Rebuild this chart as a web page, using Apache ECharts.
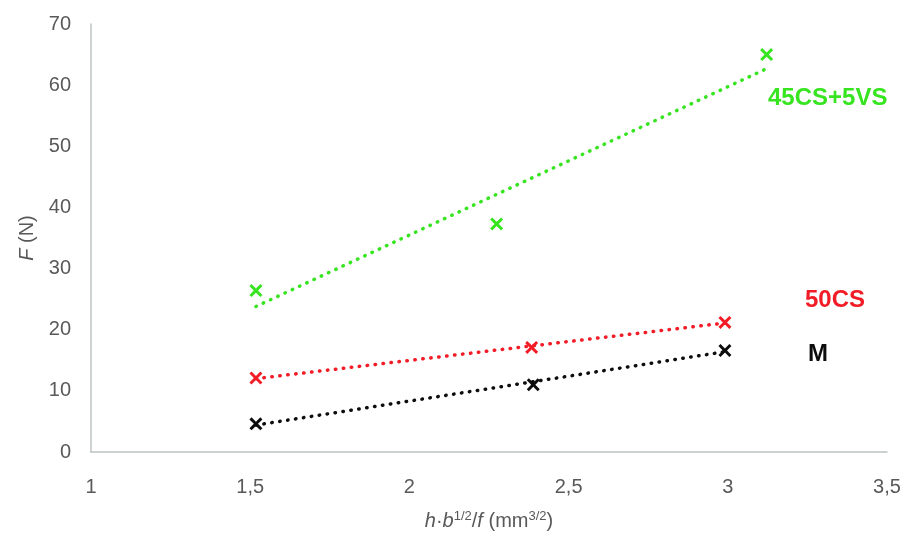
<!DOCTYPE html>
<html>
<head>
<meta charset="utf-8">
<script src="https://cdn.jsdelivr.net/npm/echarts@6/dist/echarts.min.js"></script>
<style>html,body{margin:0;padding:0;background:#fff}#c{width:905px;height:534px}</style>
</head>
<body>
<div id="c"></div>
<script>
// Data
const xTicks = [1, 1.5, 2, 2.5, 3, 3.5];
const yTicks = [0, 10, 20, 30, 40, 50, 60, 70];
const seriesNames = ['45CS+5VS', '50CS', 'M'];
const greenPoints = [[1.518, 26.4], [2.274, 37.3], [3.122, 65.0]];
const redPoints = [[1.518, 12.1], [2.384, 17.1], [2.991, 21.2]];
const blackPoints = [[1.518, 4.6], [2.389, 11.0], [2.991, 16.6]];
const greenTrend = [[1.518, 23.8], [3.122, 62.7]];
const redTrend = [[1.518, 12.0], [2.991, 21.1]];
const blackTrend = [[1.518, 4.4], [2.991, 16.4]];

const colors = {green: '#36e41f', red: '#f21c26', black: '#0d0d0d'};
const xSym = 'path://M0,1.6 L1.6,0 L5,3.4 L8.4,0 L10,1.6 L6.6,5 L10,8.4 L8.4,10 L5,6.6 L1.6,10 L0,8.4 L3.4,5 Z';

function trend(data, c) {
  return {type: 'line', data: data, symbol: 'none', silent: true, z: 2,
    lineStyle: {color: c, width: 3.5, type: [0.5, 7.5], cap: 'round'}};
}
function pts(name, data, c) {
  return {type: 'scatter', name: name, data: data, symbol: xSym, symbolSize: 13, z: 3,
    itemStyle: {color: c, opacity: 1}};
}
const fmt = v => String(v).replace('.', ',');
const font = 'Liberation Sans';

const chart = echarts.init(document.getElementById('c'));
chart.setOption({
  animation: false,
  grid: {left: 91, right: 18, top: 24, bottom: 82, containLabel: false, outerBoundsMode: 'none'},
  xAxis: {
    type: 'value', min: xTicks[0], max: xTicks[xTicks.length - 1], interval: 0.5,
    axisLine: {lineStyle: {color: '#bcc3c3', width: 1.5}},
    axisTick: {show: false}, splitLine: {show: false},
    axisLabel: {formatter: fmt, color: '#595959', fontSize: 20, fontFamily: font, margin: 25},
    name: '{i|h}{n|·}{i|b}{s|1/2}{n|/}{i|f}{n| (mm}{s|3/2}{n|)}',
    nameLocation: 'middle', nameGap: 58,
    nameTextStyle: {
      rich: {
        i: {fontStyle: 'italic', fontSize: 20, color: '#595959', fontFamily: font},
        n: {fontSize: 20, color: '#595959', fontFamily: font},
        s: {fontSize: 13, color: '#595959', fontFamily: font, padding: [0, 0, 10, 0]}
      }
    }
  },
  yAxis: {
    type: 'value', min: yTicks[0], max: yTicks[yTicks.length - 1], interval: 10,
    axisLine: {show: true, lineStyle: {color: '#bcc3c3', width: 1.5}},
    axisTick: {show: false}, splitLine: {show: false},
    axisLabel: {color: '#595959', fontSize: 20, fontFamily: font, margin: 20},
    name: '{i|F}{n| (N)}', nameLocation: 'middle', nameGap: 48, nameRotate: 90,
    nameTextStyle: {
      rich: {
        i: {fontStyle: 'italic', fontSize: 20, color: '#595959', fontFamily: font},
        n: {fontSize: 20, color: '#595959', fontFamily: font}
      }
    }
  },
  series: [
    trend(greenTrend, colors.green), trend(redTrend, colors.red), trend(blackTrend, colors.black),
    pts(seriesNames[0], greenPoints, colors.green), pts(seriesNames[1], redPoints, colors.red),
    pts(seriesNames[2], blackPoints, colors.black)
  ],
  graphic: [
    {type: 'text', left: 768, top: 86, style: {text: seriesNames[0], fill: colors.green, font: 'bold 24px "Liberation Sans"'}},
    {type: 'text', left: 805, top: 288, style: {text: seriesNames[1], fill: colors.red, font: 'bold 24px "Liberation Sans"'}},
    {type: 'text', left: 808, top: 342, style: {text: seriesNames[2], fill: colors.black, font: 'bold 24px "Liberation Sans"'}}
  ]
});
</script>
</body>
</html>
